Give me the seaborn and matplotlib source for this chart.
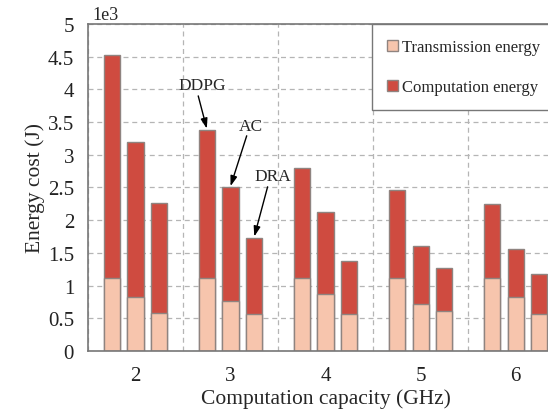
import seaborn as sns
import pandas as pd
import numpy as np
import matplotlib.pyplot as plt
from matplotlib.patches import Patch
from matplotlib.ticker import FuncFormatter

# data (J)
capacity = ['2', '3', '4', '5', '6']
methods = ['DDPG', 'AC', 'DRA']
total_ddpg = [4520, 3380, 2800, 2460, 2250]
total_ac = [3200, 2500, 2130, 1610, 1560]
total_dra = [2270, 1730, 1380, 1270, 1180]
trans_ddpg = [1115, 1120, 1110, 1110, 1110]
trans_ac = [820, 770, 870, 720, 830]
trans_dra = [580, 560, 570, 610, 570]

rows = []
for i, c in enumerate(capacity):
    for m, tot, tr in zip(methods, [total_ddpg, total_ac, total_dra], [trans_ddpg, trans_ac, trans_dra]):
        rows.append({'capacity': c, 'method': m, 'total': tot[i], 'transmission': tr[i]})
df = pd.DataFrame(rows)

red = '#cf4b40'
peach = '#f7c5ad'
edge = '#8f8480'

sns.set_style('whitegrid')
plt.rcParams['font.family'] = ['Liberation Serif', 'DejaVu Serif']

fig = plt.figure(figsize=(5.48, 4.10), dpi=100)
ax = fig.add_axes([0.1606, 0.1415, 0.867, 0.7976])

sns.barplot(data=df, x='capacity', y='total', hue='method', palette=[red] * 3,
            width=0.75, gap=0.32, edgecolor=edge, linewidth=1, saturation=1,
            legend=False, ax=ax)
sns.barplot(data=df, x='capacity', y='transmission', hue='method', palette=[peach] * 3,
            width=0.75, gap=0.32, edgecolor=edge, linewidth=1, saturation=1,
            legend=False, ax=ax)

ax.set_xlim(-0.5, 4.5)
ax.set_ylim(0, 5000)
ax.set_yticks(np.arange(0, 5001, 500))
ax.yaxis.set_major_formatter(FuncFormatter(lambda v, p: f'{v / 1000:g}'))
ax.set_xticks(range(5), minor=False)
ax.set_xticks(np.arange(-0.5, 4.6, 1), minor=True)
ax.grid(False)
ax.grid(True, which='major', axis='y', linestyle=(0, (4, 3)), color='#b5b5b5', lw=0.9)
ax.grid(True, which='minor', axis='x', linestyle=(0, (4, 3)), color='#b5b5b5', lw=0.9)
ax.tick_params(which='both', length=0, labelsize=15, colors='#222222')
ax.tick_params(axis='x', pad=11)
ax.tick_params(axis='y', pad=10)
for s in ax.spines.values():
    s.set_color('#777777')
    s.set_linewidth(1.2)

ax.set_xlabel('Computation capacity (GHz)', fontsize=15.5, labelpad=2)
ax.set_ylabel('Energy cost (J)', fontsize=15.5, labelpad=2)
ax.text(0.01, 1.015, '1e3', transform=ax.transAxes, fontsize=13, ha='left', va='baseline')

# arrows to the 3 GHz bars
offs = [-0.25, 0.0, 0.25]
tots = [total_ddpg[1], total_ac[1], total_dra[1]]
txt_pos = [(0.70, 4060), (1.21, 3440), (1.44, 2670)]
tail = [(0.66, 3900), (1.17, 3290), (1.39, 2510)]
for m, o, t, tp, tl in zip(methods, offs, tots, txt_pos, tail):
    ax.text(tp[0], tp[1], m, ha='center', va='center', fontsize=12.5)
    ax.annotate('', xy=(1 + o, t + 20), xytext=tl,
                arrowprops=dict(arrowstyle='-|>,head_length=0.6,head_width=0.2',
                                color='black', lw=1, shrinkA=0, shrinkB=0))

handles = [Patch(facecolor=peach, edgecolor=edge, label='Transmission energy'),
           Patch(facecolor=red, edgecolor=edge, label='Computation energy')]
leg = fig.legend(handles=handles, loc='upper left', bbox_to_anchor=(372 / 548, 1 - 25 / 410),
                 fontsize=12, frameon=True, fancybox=False, handlelength=0.65,
                 handleheight=0.65, handletextpad=0.25, labelspacing=1.45,
                 borderpad=0.9, borderaxespad=0)
leg.get_frame().set_edgecolor('#777777')
leg.get_frame().set_linewidth(1)
leg.get_frame().set_alpha(1)

fig.savefig('out.png', dpi=100)
